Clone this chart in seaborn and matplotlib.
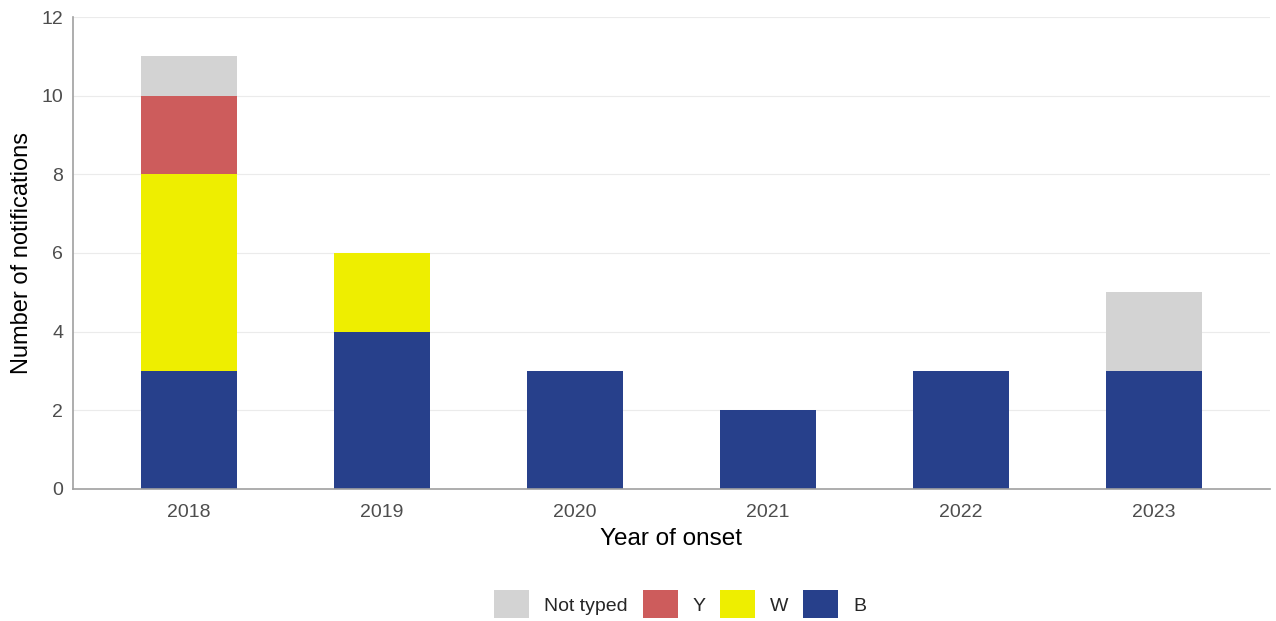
import matplotlib.pyplot as plt
import seaborn as sns
import pandas as pd
import numpy as np
from matplotlib.patches import Patch

# Data
years = ["2018", "2019", "2020", "2021", "2022", "2023"]
b_vals = [3, 4, 3, 2, 3, 3]
w_vals = [5, 2, 0, 0, 0, 0]
y_vals = [2, 0, 0, 0, 0, 0]
nt_vals = [1, 0, 0, 0, 0, 2]

groups = ["B", "W", "Y", "Not typed"]
colors = {"B": "#27408B", "W": "#EEEE00", "Y": "#CD5C5C", "Not typed": "#D3D3D3"}

df = pd.DataFrame({"year": years, "B": b_vals, "W": w_vals, "Y": y_vals, "Not typed": nt_vals})
cum = df[groups].cumsum(axis=1)

sns.set_style("white")
plt.rcParams["font.family"] = ["Liberation Sans", "DejaVu Sans"]

fig = plt.figure(figsize=(12.76, 6.21), dpi=100)
ax = fig.add_axes([0.0572, 0.2126, 0.9378, 0.76])

# draw cumulative layers, tallest first so lower layers sit on top
for g in reversed(groups):
    sns.barplot(x=df["year"], y=cum[g], color=colors[g], width=0.5,
                saturation=1, edgecolor="none", ax=ax, zorder=2)

ax.set_xlim(-0.6, 5.6)
ax.set_ylim(0, 12)
ax.set_yticks(np.arange(0, 13, 2))

ax.grid(axis="y", color="#EBEBEB", linewidth=0.8, zorder=0)
ax.grid(axis="x", visible=False)
ax.set_axisbelow(True)

for s in ["top", "right"]:
    ax.spines[s].set_visible(False)
for s in ["left", "bottom"]:
    ax.spines[s].set_color("#A0A0A0")
    ax.spines[s].set_linewidth(1.2)

ax.tick_params(axis="y", length=4, color="#A0A0A0", labelsize=14, labelcolor="#4D4D4D", pad=3)
ax.tick_params(axis="x", length=0, labelsize=14, labelcolor="#4D4D4D", pad=11)

ax.set_xlabel("Year of onset", fontsize=17.5, color="black", labelpad=5)
ax.set_ylabel("Number of notifications", fontsize=17, color="black", labelpad=6)

handles = [Patch(facecolor=colors[g], edgecolor="none") for g in ["Not typed", "Y", "W", "B"]]
fig.legend(handles, ["Not typed", "Y", "W", "B"], loc="center", bbox_to_anchor=(0.533, 0.027),
           ncol=4, frameon=False, fontsize=14, handlelength=1.8, handleheight=1.8,
           handletextpad=0.75, columnspacing=0.78)

fig.savefig("out.png", dpi=100)
